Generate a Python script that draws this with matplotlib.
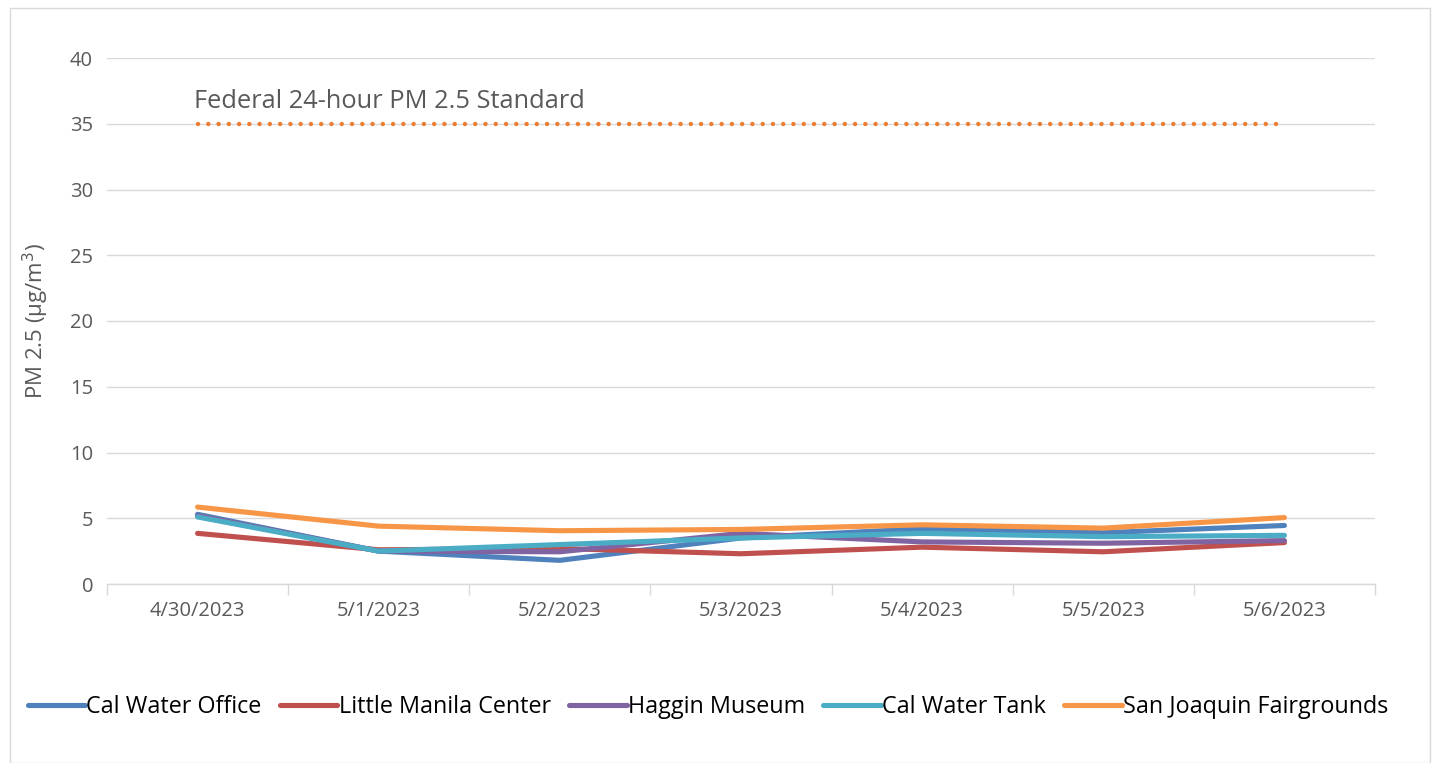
import matplotlib
matplotlib.use("Agg")
import matplotlib.pyplot as plt
from matplotlib.patches import Rectangle

dates = ["4/30/2023", "5/1/2023", "5/2/2023", "5/3/2023", "5/4/2023", "5/5/2023", "5/6/2023"]
cal_water_office = [5.3, 2.5, 1.8, 3.5, 4.2, 3.9, 4.45]
little_manila = [3.85, 2.6, 2.7, 2.3, 2.8, 2.45, 3.15]
haggin_museum = [5.2, 2.5, 2.45, 3.85, 3.2, 3.1, 3.3]
cal_water_tank = [5.1, 2.5, 3.0, 3.5, 3.85, 3.6, 3.7]
sj_fairgrounds = [5.85, 4.4, 4.05, 4.15, 4.5, 4.25, 5.05]
standard = [35] * 7

series = [
    ("Cal Water Office", cal_water_office, "#4F81BD"),
    ("Little Manila Center", little_manila, "#C0504D"),
    ("Haggin Museum", haggin_museum, "#8064A2"),
    ("Cal Water Tank", cal_water_tank, "#4BACC6"),
    ("San Joaquin Fairgrounds", sj_fairgrounds, "#F79646"),
]

plt.rcParams['font.family'] = ['Open Sans', 'DejaVu Sans']
W, H = 1444, 763
fig = plt.figure(figsize=(W / 100, H / 100), dpi=100)
ax = fig.add_axes([107 / W, 1 - 584 / H, (1375 - 107) / W, (584 - 58) / H])

# outer border
fig.patches.append(Rectangle((10 / W, 0), (1430 - 10) / W, 1 - 8 / H, transform=fig.transFigure,
                             fill=False, edgecolor="#D9D9D9", linewidth=1))

x = list(range(len(dates)))
for name, vals, col in series:
    ax.plot(x, vals, color=col, linewidth=3.7, label=name, solid_capstyle="round", solid_joinstyle="round")

ax.plot(x, standard, color="#ED7D31", linewidth=3.2, linestyle=(0, (0.01, 2.3)), dash_capstyle="round")
ax.text(-0.02, 35.75, "Federal 24-hour PM 2.5 Standard", fontsize=18.3, color="#595959",
        ha="left", va="bottom")

ax.set_xlim(-0.5, 6.5)
ax.set_ylim(0, 40)
ax.set_yticks(range(0, 41, 5))
ax.set_xticks(x)
ax.set_xticklabels(dates)
ax.set_xticks([i - 0.5 for i in range(8)], minor=True)
ax.tick_params(axis="x", which="major", length=0, pad=12, labelsize=14.5, labelcolor="#595959")
ax.tick_params(axis="x", which="minor", length=8, color="#D9D9D9", width=1)
ax.tick_params(axis="y", length=0, pad=10, labelsize=14.5, labelcolor="#595959")
ax.grid(axis="y", color="#D9D9D9", linewidth=1)
ax.set_axisbelow(True)
for s in ["top", "right", "left"]:
    ax.spines[s].set_visible(False)
ax.spines["bottom"].set_color("#D9D9D9")
ax.spines["bottom"].set_linewidth(1)

ax.set_ylabel("PM 2.5 (μg/m$^3$)", fontsize=16, color="#595959", labelpad=14)

handles, labels = ax.get_legend_handles_labels()
leg = fig.legend(handles[:5], labels[:5], loc="center", bbox_to_anchor=(708 / W, 1 - 707 / H), ncol=5,
                 frameon=False, fontsize=16.8, handlelength=2.45, handletextpad=0.05, columnspacing=0.8)
for t in leg.get_texts():
    t.set_color("#000000")

fig.savefig("out.png", dpi=100)
